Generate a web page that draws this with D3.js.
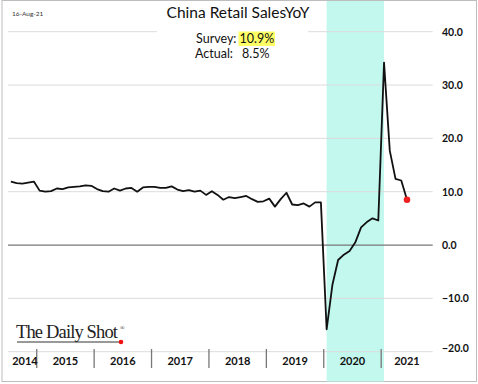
<!DOCTYPE html>
<html>
<head>
<meta charset="utf-8">
<script src="https://cdn.jsdelivr.net/npm/d3@7"></script>
<style>
  body { margin: 0; background: #fff; }
  svg { font-family: Lato, "Open Sans", sans-serif; }
</style>
</head>
<body>
<div id="container"></div>
<script>
/** CONSTANTS AND GLOBALS */
const width = 478,
  height = 384;

// monthly observations (Jan/Feb not plotted), Aug 2014 .. Jul 2021
const months = [
  "2014-08", "2014-09", "2014-10", "2014-11", "2014-12",
  "2015-03", "2015-04", "2015-05", "2015-06", "2015-07", "2015-08", "2015-09", "2015-10", "2015-11", "2015-12",
  "2016-03", "2016-04", "2016-05", "2016-06", "2016-07", "2016-08", "2016-09", "2016-10", "2016-11", "2016-12",
  "2017-03", "2017-04", "2017-05", "2017-06", "2017-07", "2017-08", "2017-09", "2017-10", "2017-11", "2017-12",
  "2018-03", "2018-04", "2018-05", "2018-06", "2018-07", "2018-08", "2018-09", "2018-10", "2018-11", "2018-12",
  "2019-03", "2019-04", "2019-05", "2019-06", "2019-07", "2019-08", "2019-09", "2019-10", "2019-11", "2019-12",
  "2020-03", "2020-04", "2020-05", "2020-06", "2020-07", "2020-08", "2020-09", "2020-10", "2020-11", "2020-12",
  "2021-03", "2021-04", "2021-05", "2021-06", "2021-07"
];
const retailYoY = [
  11.9, 11.6, 11.5, 11.7, 11.9,
  10.2, 10.0, 10.1, 10.6, 10.5, 10.8, 10.9, 11.0, 11.2, 11.1,
  10.5, 10.1, 10.0, 10.6, 10.2, 10.6, 10.7, 10.0, 10.8, 10.9,
  10.9, 10.7, 10.7, 11.0, 10.4, 10.1, 10.3, 10.0, 10.2, 9.4,
  10.1, 9.4, 8.5, 9.0, 8.8, 9.0, 9.2, 8.6, 8.1, 8.2,
  8.7, 7.2, 8.6, 9.8, 7.6, 7.5, 7.8, 7.2, 8.0, 8.0,
  -15.8, -7.5, -2.8, -1.8, -1.1, 0.5, 3.3, 4.3, 5.0, 4.6,
  34.2, 17.7, 12.4, 12.1, 8.5
];
const years = ["2014", "2015", "2016", "2017", "2018", "2019", "2020", "2021"];
const yTicks = [-20, -10, 0, 10, 20, 30, 40];
const shadeFrom = "2020-03", shadeTo = "2021-03";

const data = months.map((m, i) => ({ i, month: m, value: retailYoY[i] }));

const plotLeft = 8, plotRight = 432.7;

const svg = d3.select("#container").append("svg")
  .attr("width", width)
  .attr("height", height);

const x = d3.scaleLinear().domain([0, months.length - 1]).range([10.9, 407]);
const y = d3.scaleLinear().domain([-20, 40]).range([351.7, 31.7]);

// outer frame
svg.append("rect")
  .attr("x", 2).attr("y", 0.5)
  .attr("width", 474.5).attr("height", 381)
  .attr("fill", "#fff")
  .attr("stroke", "#bdbdbd");

// covid shading
svg.append("rect")
  .attr("x", x(months.indexOf(shadeFrom)))
  .attr("y", 1)
  .attr("width", x(months.indexOf(shadeTo)) - x(months.indexOf(shadeFrom)))
  .attr("height", 380.5)
  .attr("fill", "#c2f8ee");

// gridlines
svg.append("g")
  .selectAll("line")
  .data(yTicks.filter(d => d !== 0))
  .join("line")
  .attr("x1", plotLeft).attr("x2", plotRight)
  .attr("y1", d => y(d)).attr("y2", d => y(d))
  .attr("stroke", "#dcdcdc")
  .attr("stroke-width", 1);

// y labels
svg.append("g")
  .selectAll("text")
  .data(yTicks)
  .join("text")
  .attr("x", 442)
  .attr("y", d => y(d) + (d === -20 ? 0 : 4))
  .attr("font-size", 10.5)
  .attr("font-weight", "bold")
  .attr("fill", "#111")
  .text(d => d3.format(".1f")(d));

// title / annotation box
svg.append("rect")
  .attr("x", 157).attr("y", 2)
  .attr("width", 151).attr("height", 62)
  .attr("fill", "#fff");

svg.append("text")
  .attr("x", 238).attr("y", 18)
  .attr("text-anchor", "middle")
  .attr("font-size", 15.5)
  .attr("fill", "#111")
  .text("China Retail SalesYoY");

svg.append("rect")
  .attr("x", 238.5).attr("y", 31.5)
  .attr("width", 36.5).attr("height", 14.5)
  .attr("fill", "#ffff66");

svg.append("text")
  .attr("x", 236.5).attr("y", 43)
  .attr("text-anchor", "end")
  .attr("font-size", 12.5)
  .attr("fill", "#111")
  .text("Survey:");
svg.append("text")
  .attr("x", 239.5).attr("y", 43)
  .attr("font-size", 12.5)
  .attr("fill", "#111")
  .text("10.9%");
svg.append("text")
  .attr("x", 233).attr("y", 58)
  .attr("text-anchor", "end")
  .attr("font-size", 12.5)
  .attr("fill", "#111")
  .text("Actual:");
svg.append("text")
  .attr("x", 242).attr("y", 58)
  .attr("font-size", 12.5)
  .attr("fill", "#111")
  .text("8.5%");

svg.append("text")
  .attr("x", 12).attr("y", 15.5)
  .attr("font-size", 6.5)
  .attr("fill", "#333")
  .text("16-Aug-21");

// zero line
svg.append("line")
  .attr("x1", plotLeft).attr("x2", plotRight)
  .attr("y1", y(0)).attr("y2", y(0))
  .attr("stroke", "#777")
  .attr("stroke-width", 1.2);

// year separators and labels
const bounds = years.map(yr => {
  const first = months.findIndex(m => m.startsWith(yr));
  return first === 0 ? plotLeft : x(first - 0.5);
});
svg.append("g")
  .selectAll("line")
  .data(bounds.slice(1))
  .join("line")
  .attr("x1", d => d).attr("x2", d => d)
  .attr("y1", 349).attr("y2", 368)
  .attr("stroke", "#777")
  .attr("stroke-width", 1.3);

svg.append("g")
  .selectAll("text")
  .data(years)
  .join("text")
  .attr("x", (d, i) => {
    const a = bounds[i], b = i < years.length - 1 ? bounds[i + 1] : plotRight;
    return i === 0 ? a + 17 : (a + b) / 2;
  })
  .attr("y", 365)
  .attr("text-anchor", "middle")
  .attr("font-size", 11)
  .attr("font-weight", "bold")
  .attr("fill", "#111")
  .text(d => d);

// series line
const line = d3.line()
  .x(d => x(d.i))
  .y(d => y(d.value));

svg.append("path")
  .datum(data)
  .attr("fill", "none")
  .attr("stroke", "#111")
  .attr("stroke-width", 1.8)
  .attr("stroke-linejoin", "round")
  .attr("d", line);

const last = data[data.length - 1];
svg.append("circle")
  .attr("cx", x(last.i))
  .attr("cy", y(last.value))
  .attr("r", 3.3)
  .attr("fill", "#f02020");

// logo
const logo = svg.append("g").attr("transform", "translate(16,338)");
logo.append("text")
  .style("font-family", "'Liberation Serif', 'DejaVu Serif', serif")
  .attr("font-size", 18.5)
  .attr("textLength", 102)
  .attr("fill", "#222")
  .text("The Daily Shot");
logo.append("text")
  .attr("x", 104).attr("y", -8)
  .style("font-family", "'Liberation Serif', serif")
  .attr("font-size", 6)
  .attr("fill", "#222")
  .text("®");
logo.append("line")
  .attr("x1", 1).attr("x2", 104)
  .attr("y1", 4).attr("y2", 4)
  .attr("stroke", "#333")
  .attr("stroke-width", 1);
logo.append("circle")
  .attr("cx", 105).attr("cy", 4)
  .attr("r", 2.3)
  .attr("fill", "#f01010");
</script>
</body>
</html>
